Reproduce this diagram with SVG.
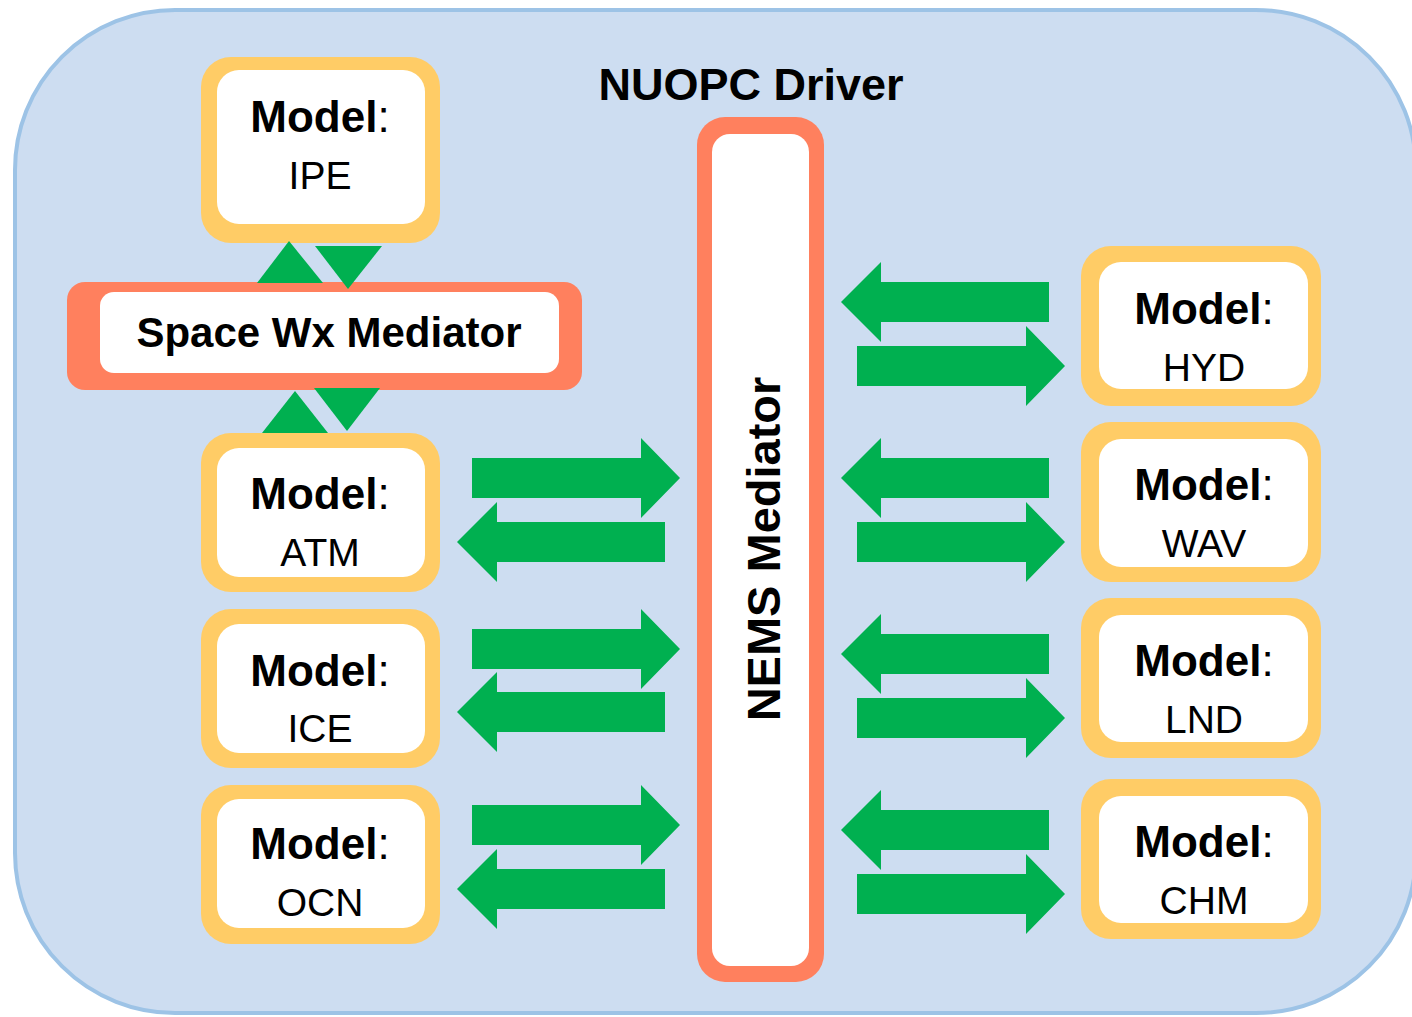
<svg xmlns="http://www.w3.org/2000/svg" xmlns:xlink="http://www.w3.org/1999/xlink" width="1412" height="1017" viewBox="0 0 1412 1017">
<style>
.outer{fill:#ffcc66}
.inner{fill:#ffffff}
.med{fill:#ff805e}
.grn{fill:#00b050}
.b{font-family:"Liberation Sans",Arial,sans-serif;font-weight:bold;fill:#000}
.r{font-family:"Liberation Sans",Arial,sans-serif;font-weight:normal;fill:#000}
.lbl{font-size:44px;text-anchor:middle}
.sub{font-size:39px;text-anchor:middle}
</style>
<defs>
<path id="arrR" d="M0,-20 H169 V-40 L208,0 L169,40 V20 H0 Z"/>
<path id="arrL" d="M0,0 L40,-40 V-20 H208 V20 H40 V40 Z"/>
</defs>
<rect id="driver" x="15" y="10" width="1401" height="1003" rx="160" ry="160" fill="#cdddf1" stroke="#9dc3e6" stroke-width="4"/>
<text class="b" x="751" y="100" font-size="45" text-anchor="middle">NUOPC Driver</text>

<g id="ipe">
<rect class="outer" x="201" y="57" width="239" height="186" rx="30"/>
<rect class="inner" x="217" y="70" width="208" height="154" rx="22"/>
<text class="b lbl" x="320" y="132">Model<tspan class="r">:</tspan></text>
<text class="r sub" x="320" y="189">IPE</text>
</g>
<g id="spacewx">
<rect class="med" x="67" y="282" width="515" height="108" rx="18"/>
<rect class="inner" x="100" y="292" width="459" height="81" rx="14"/>
<text class="b" x="329" y="347" font-size="42" text-anchor="middle">Space Wx Mediator</text>
</g>
<g id="atm">
<rect class="outer" x="201" y="433" width="239" height="159" rx="30"/>
<rect class="inner" x="217" y="448" width="208" height="129" rx="22"/>
<text class="b lbl" x="320" y="509">Model<tspan class="r">:</tspan></text>
<text class="r sub" x="320" y="566">ATM</text>
</g>
<g id="ice">
<rect class="outer" x="201" y="609" width="239" height="159" rx="30"/>
<rect class="inner" x="217" y="624" width="208" height="129" rx="22"/>
<text class="b lbl" x="320" y="686">Model<tspan class="r">:</tspan></text>
<text class="r sub" x="320" y="742">ICE</text>
</g>
<g id="ocn">
<rect class="outer" x="201" y="785" width="239" height="159" rx="30"/>
<rect class="inner" x="217" y="799" width="208" height="129" rx="22"/>
<text class="b lbl" x="320" y="859">Model<tspan class="r">:</tspan></text>
<text class="r sub" x="320" y="916">OCN</text>
</g>
<g id="nems">
<rect class="med" x="697" y="117" width="127" height="865" rx="28"/>
<rect class="inner" x="712" y="134" width="97" height="832" rx="18"/>
<text class="b" transform="translate(780,549) rotate(-90)" font-size="47" text-anchor="middle">NEMS Mediator</text>
</g>
<g id="hyd">
<rect class="outer" x="1081" y="246" width="240" height="160" rx="30"/>
<rect class="inner" x="1099" y="262" width="209" height="127" rx="22"/>
<text class="b lbl" x="1204" y="324">Model<tspan class="r">:</tspan></text>
<text class="r sub" x="1204" y="381">HYD</text>
</g>
<g id="wav">
<rect class="outer" x="1081" y="422" width="240" height="160" rx="30"/>
<rect class="inner" x="1099" y="439" width="209" height="128" rx="22"/>
<text class="b lbl" x="1204" y="500">Model<tspan class="r">:</tspan></text>
<text class="r sub" x="1204" y="557">WAV</text>
</g>
<g id="lnd">
<rect class="outer" x="1081" y="598" width="240" height="160" rx="30"/>
<rect class="inner" x="1099" y="615" width="209" height="127" rx="22"/>
<text class="b lbl" x="1204" y="676">Model<tspan class="r">:</tspan></text>
<text class="r sub" x="1204" y="733">LND</text>
</g>
<g id="chm">
<rect class="outer" x="1081" y="779" width="240" height="160" rx="30"/>
<rect class="inner" x="1099" y="796" width="209" height="127" rx="22"/>
<text class="b lbl" x="1204" y="857">Model<tspan class="r">:</tspan></text>
<text class="r sub" x="1204" y="914">CHM</text>
</g>

<g id="connectors" class="grn">
<polygon points="289,241 257,283 323,283"/>
<polygon points="315,246 382,246 348,289"/>
<polygon points="295,391 262,433 328,433"/>
<polygon points="314,388 380,388 347,431"/>
<use xlink:href="#arrR" x="472" y="478"/>
<use xlink:href="#arrL" x="457" y="542"/>
<use xlink:href="#arrR" x="472" y="649"/>
<use xlink:href="#arrL" x="457" y="712"/>
<use xlink:href="#arrR" x="472" y="825"/>
<use xlink:href="#arrL" x="457" y="889"/>
<use xlink:href="#arrL" x="841" y="302"/>
<use xlink:href="#arrR" x="857" y="366"/>
<use xlink:href="#arrL" x="841" y="478"/>
<use xlink:href="#arrR" x="857" y="542"/>
<use xlink:href="#arrL" x="841" y="654"/>
<use xlink:href="#arrR" x="857" y="718"/>
<use xlink:href="#arrL" x="841" y="830"/>
<use xlink:href="#arrR" x="857" y="894"/>
</g>
</svg>
